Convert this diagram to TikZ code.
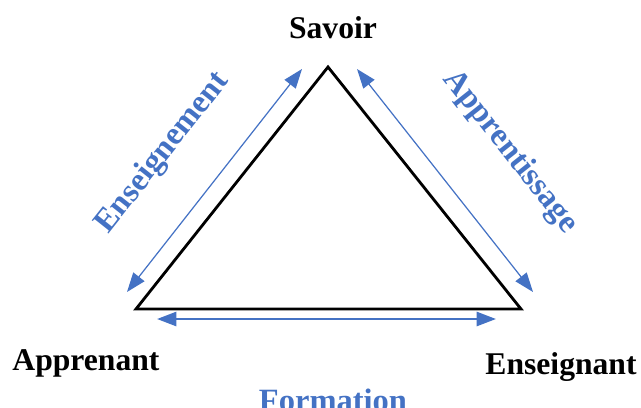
\documentclass[tikz,border=0pt]{standalone}
\usepackage{fontspec}
\setmainfont{Liberation Serif}
\usetikzlibrary{arrows.meta}
\definecolor{officeblue}{HTML}{4472C4}

\begin{document}
\begin{tikzpicture}[x=0.02cm, y=0.02cm,
		pole/.style={font=\bfseries\fontsize{18}{20}\selectfont, inner sep=0pt},
		role/.style={font=\bfseries\fontsize{18.5}{20}\selectfont, text=officeblue, inner sep=0pt},
		flow/.style={{Triangle[length=11pt,width=8pt]}-{Triangle[length=11pt,width=8pt]}, officeblue}]
	\useasboundingbox (0,0) rectangle (641,407);
	% didactic triangle
	\coordinate (S) at (328,340);
	\coordinate (A) at (136,98);
	\coordinate (E) at (521,98);
	\draw[line width=1.6pt, line join=miter] (S) -- (A) -- (E) -- cycle;
	
	\node[pole] (savoir) at (333,379) {Savoir};
	\node[pole] (apprenant) at (86,44) {Apprenant};
	\node[pole] (enseignant) at (561,40) {Enseignant};
	
	% arrows along the sides
	\coordinate (l1) at (127,115);
	\coordinate (l2) at (302,338);
	\coordinate (r1) at (357,338);
	\coordinate (r2) at (533,115);
	\coordinate (b1) at (157,88);
	\coordinate (b2) at (496,88);
	\draw[flow, line width=0.7pt] (l1) -- (l2);
	\draw[flow, line width=0.7pt] (r1) -- (r2);
	\draw[flow, line width=1.4pt] (b1) -- (b2);
	
	\node[role, rotate=51.6] (enseignement) at (163,254) {Enseignement};
	\node[role, rotate=-51.6] (apprentissage) at (510,255) {Apprentissage};
	\node[role] (formation) at (333,7) {Formation};
\end{tikzpicture}
\end{document}
